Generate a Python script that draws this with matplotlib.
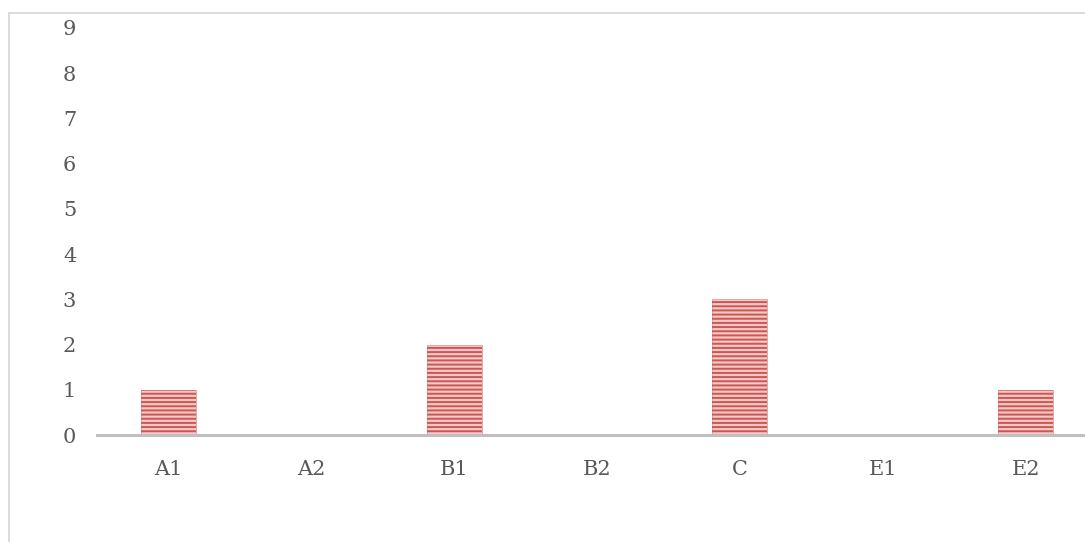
import matplotlib
matplotlib.use('Agg')
import matplotlib.pyplot as plt
from matplotlib.lines import Line2D

categories = ['A1', 'A2', 'B1', 'B2', 'C', 'E1', 'E2']
counts = [1, 0, 2, 0, 3, 0, 1]
y_ticks = list(range(0, 10))

plt.rcParams['font.family'] = ['DejaVu Serif']
plt.rcParams['hatch.linewidth'] = 1.4

fig = plt.figure(figsize=(10.85, 5.42), dpi=100)
ax = fig.add_axes([0.0894, 0.1974, 0.9217, 0.751])

x = range(len(categories))
# pale fill, then red stripes on top
ax.bar(x, counts, width=0.385, color='#f3c9c8', edgecolor='#dc8f8d',
       linewidth=0.5, zorder=2)
ax.bar(x, counts, width=0.385, facecolor='none', edgecolor='#cd5552',
       linewidth=0, hatch='----', zorder=2)

ax.set_xlim(-0.5, len(categories) - 0.5)
ax.set_ylim(0, 9)
ax.set_yticks(y_ticks)
ax.set_xticks(list(x))
ax.set_xticklabels(categories)

for side in ['top', 'right', 'left']:
    ax.spines[side].set_visible(False)
ax.spines['bottom'].set_color('#bfbfbf')
ax.spines['bottom'].set_linewidth(2.2)
ax.spines['bottom'].set_zorder(3)
ax.tick_params(axis='both', length=0, labelsize=15, colors='#595959')
ax.tick_params(axis='y', pad=15)
ax.tick_params(axis='x', pad=18)

# chart area frame
fig.add_artist(Line2D([0.0083, 0.0083], [0.0, 0.976], color='#d9d9d9',
                      linewidth=1.3, transform=fig.transFigure))
fig.add_artist(Line2D([0.0083, 1.0], [0.976, 0.976], color='#d9d9d9',
                      linewidth=1.3, transform=fig.transFigure))

fig.savefig('out.png', dpi=100)
